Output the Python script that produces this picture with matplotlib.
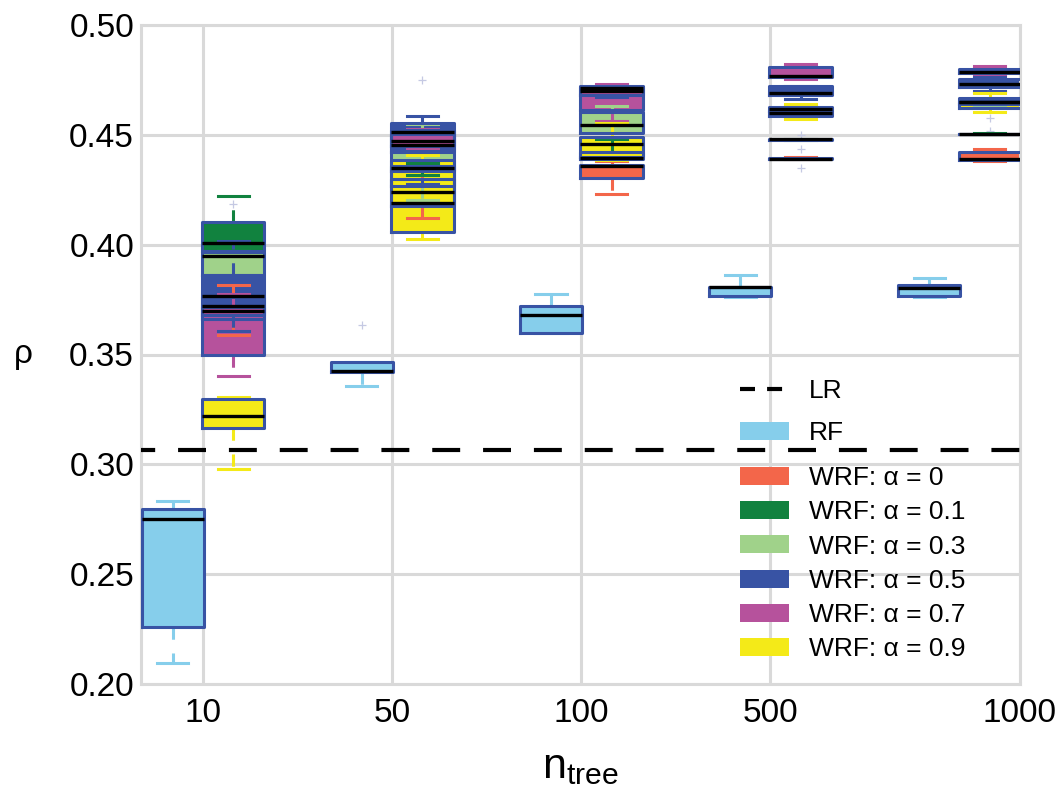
import matplotlib
matplotlib.use('Agg')
import matplotlib.pyplot as plt
from matplotlib.lines import Line2D
from matplotlib.patches import Patch

plt.rcParams['font.family'] = ['Liberation Sans', 'DejaVu Sans']
plt.rcParams['mathtext.fontset'] = 'custom'
plt.rcParams['mathtext.rm'] = 'Liberation Sans'
plt.rcParams['mathtext.it'] = 'Liberation Sans'

# ---------------- data ----------------
ntree_labels = ['10', '50', '100', '500', '1000']
lr_value = 0.3065

series_names = ['RF', 'WRF: α = 0', 'WRF: α = 0.1', 'WRF: α = 0.3',
                'WRF: α = 0.5', 'WRF: α = 0.7', 'WRF: α = 0.9']
series_colors = ['#86CEEB', '#F3664A', '#11823F', '#A0D28A',
                 '#3853A4', '#B6529C', '#F4EA18']

# RF
rf_lo = [0.2095, 0.3356, 0.3597, 0.3761, 0.3761]
rf_q1 = [0.2259, 0.3420, 0.3597, 0.3766, 0.3766]
rf_med = [0.2750, 0.3424, 0.3679, 0.3807, 0.3802]
rf_q3 = [0.2796, 0.3467, 0.3720, 0.3807, 0.3816]
rf_hi = [0.2832, 0.3467, 0.3775, 0.3862, 0.3848]
rf_fl = [[], [0.3634], [], [], []]

# WRF alpha = 0
a0_lo = [0.3588, 0.4121, 0.4229, 0.4388, 0.4381]
a0_q1 = [0.3660, 0.4175, 0.4302, 0.4390, 0.4385]
a0_med = [0.3720, 0.4190, 0.4358, 0.4392, 0.4390]
a0_q3 = [0.3760, 0.4300, 0.4362, 0.4396, 0.4422]
a0_hi = [0.3816, 0.4358, 0.4380, 0.4400, 0.4435]
a0_fl = [[], [], [], [0.4349], []]

# WRF alpha = 0.1
a1_lo = [0.3966, 0.4317, 0.4390, 0.4476, 0.4502]
a1_q1 = [0.3970, 0.4335, 0.4392, 0.4477, 0.4503]
a1_med = [0.4007, 0.4349, 0.4396, 0.4479, 0.4504]
a1_q3 = [0.4103, 0.4360, 0.4420, 0.4481, 0.4506]
a1_hi = [0.4221, 0.4372, 0.4481, 0.4482, 0.4507]
a1_fl = [[], [], [], [0.4499, 0.4435], [0.4517]]

# WRF alpha = 0.3
a3_lo = [0.3862, 0.4203, 0.4490, 0.4605, 0.4627]
a3_q1 = [0.3862, 0.4265, 0.4510, 0.4610, 0.4640]
a3_med = [0.3948, 0.4455, 0.4543, 0.4616, 0.4650]
a3_q3 = [0.3966, 0.4520, 0.4605, 0.4625, 0.4660]
a3_hi = [0.3972, 0.4549, 0.4633, 0.4628, 0.4668]
a3_fl = [[0.4185], [], [], [], [0.4577]]

# WRF alpha = 0.5
a5_lo = [0.3607, 0.4276, 0.4671, 0.4662, 0.4700]
a5_q1 = [0.3680, 0.4420, 0.4680, 0.4681, 0.4718]
a5_med = [0.3766, 0.4513, 0.4700, 0.4689, 0.4731]
a5_q3 = [0.3860, 0.4555, 0.4718, 0.4722, 0.4754]
a5_hi = [0.4016, 0.4586, 0.4722, 0.4724, 0.4763]
a5_fl = [[], [], [], [], []]

# WRF alpha = 0.7
a7_lo = [0.3402, 0.4440, 0.4563, 0.4753, 0.4775]
a7_q1 = [0.3497, 0.4449, 0.4613, 0.4762, 0.4781]
a7_med = [0.3698, 0.4470, 0.4712, 0.4768, 0.4786]
a7_q3 = [0.3716, 0.4504, 0.4722, 0.4807, 0.4800]
a7_hi = [0.3775, 0.4526, 0.4730, 0.4821, 0.4813]
a7_fl = [[], [0.4750], [], [], []]

# WRF alpha = 0.9
a9_lo = [0.2978, 0.4026, 0.4385, 0.4571, 0.4604]
a9_q1 = [0.3165, 0.4057, 0.4398, 0.4585, 0.4622]
a9_med = [0.3219, 0.4240, 0.4458, 0.4598, 0.4650]
a9_q3 = [0.3297, 0.4385, 0.4490, 0.4608, 0.4668]
a9_hi = [0.3306, 0.4408, 0.4556, 0.4639, 0.4690]
a9_fl = [[], [], [], [], []]

series_stats = [
    (rf_lo, rf_q1, rf_med, rf_q3, rf_hi, rf_fl),
    (a0_lo, a0_q1, a0_med, a0_q3, a0_hi, a0_fl),
    (a1_lo, a1_q1, a1_med, a1_q3, a1_hi, a1_fl),
    (a3_lo, a3_q1, a3_med, a3_q3, a3_hi, a3_fl),
    (a5_lo, a5_q1, a5_med, a5_q3, a5_hi, a5_fl),
    (a7_lo, a7_q1, a7_med, a7_q3, a7_hi, a7_fl),
    (a9_lo, a9_q1, a9_med, a9_q3, a9_hi, a9_fl),
]

# ---------------- figure ----------------
W, H = 1063, 794
fig = plt.figure(figsize=(W / 100, H / 100), dpi=100)
ax = fig.add_axes([141 / W, 1 - 684 / H, (1020 - 141) / W, (684 - 25) / H])

edge_col = '#3853A4'
box_w = 0.33
offset = 0.16
group_pos = [1, 2, 3, 4, 5]

for si, (lo, q1, med, q3, hi, fl) in enumerate(series_stats):
    col = series_colors[si]
    stats = []
    for g in range(len(group_pos)):
        stats.append(dict(med=med[g], q1=q1[g], q3=q3[g],
                          whislo=lo[g], whishi=hi[g], fliers=fl[g]))
    if si == 0:
        pos = [p - offset for p in group_pos]
    else:
        pos = [p + offset for p in group_pos]
    # fills
    fills = ax.bxp(stats, positions=pos, widths=box_w, patch_artist=True,
                   showfliers=False, showcaps=False, manage_ticks=False,
                   boxprops=dict(facecolor=col, edgecolor='none', linewidth=0),
                   whiskerprops=dict(linestyle='none'),
                   medianprops=dict(linestyle='none'))
    for b in fills['boxes']:
        b.set_zorder(2 + si * 0.01)
    # lines
    lines = ax.bxp(stats, positions=pos, widths=box_w, patch_artist=False,
                   showfliers=True, manage_ticks=False,
                   boxprops=dict(color=edge_col, linewidth=2.2),
                   whiskerprops=dict(color=col, linewidth=2.2, linestyle=(0, (4, 4.5))),
                   capprops=dict(color=col, linewidth=2.2),
                   medianprops=dict(color='black', linewidth=2.4),
                   flierprops=dict(marker='+', markeredgecolor='#C5C9E3',
                                   markersize=6, markeredgewidth=0.9, linestyle='none'))
    for w in lines['whiskers']:
        w.set_zorder(3 + si * 0.01)
    for c in lines['caps']:
        c.set_zorder(3.2 + si * 0.01)
    for b in lines['boxes']:
        b.set_zorder(3.5 + si * 0.01)
    for m in lines['medians']:
        m.set_zorder(4 + si * 0.01)
    for f in lines['fliers']:
        f.set_zorder(3.1)

ax.axhline(lr_value, color='black', linewidth=3, linestyle=(3.3, (6.7, 5.5)), zorder=6)

# axes styling
ax.set_xlim(0.672, 5.32)
ax.set_ylim(0.20, 0.50)
ax.set_xticks([1, 2, 3, 4, 5.32])
ax.set_xticklabels(ntree_labels)
ax.set_yticks([0.20, 0.25, 0.30, 0.35, 0.40, 0.45, 0.50])
ax.set_yticklabels([f'{v:.2f}' for v in [0.20, 0.25, 0.30, 0.35, 0.40, 0.45, 0.50]])
ax.tick_params(axis='both', length=0, labelsize=24)
ax.tick_params(axis='x', pad=10)
ax.tick_params(axis='y', pad=5)
ax.grid(True, color='#D9D9D9', linewidth=2.2, zorder=0)
ax.set_axisbelow(True)
for sp in ax.spines.values():
    sp.set_color('#D9D9D9')
    sp.set_linewidth(2.2)

ax.set_ylabel('ρ', rotation=0, fontsize=24, ha='center', va='center')
ax.yaxis.set_label_coords((23 - 141) / 879, 0.5)
ax.set_xlabel(r'$\mathregular{n_{tree}}$', fontsize=31, va='center')
ax.xaxis.set_label_coords(0.5, -(767 - 684) / 659)

# legends
lr_handle = Line2D([], [], color='black', linewidth=3, linestyle=(0, (3.6, 2.9)))
rf_handle = Patch(facecolor=series_colors[0], edgecolor='none')
leg1 = ax.legend([lr_handle, rf_handle], ['LR', 'RF'], loc='upper left',
                 bbox_to_anchor=(740 / W, 1 - 379 / H), bbox_transform=fig.transFigure,
                 frameon=False, borderpad=0, borderaxespad=0, handlelength=1.85,
                 handleheight=0.68, handletextpad=0.75, fontsize=19, labelspacing=0.69)
leg1.set_zorder(10)
ax.add_artist(leg1)

wrf_handles = [Patch(facecolor=c, edgecolor='none') for c in series_colors[1:]]
leg2 = ax.legend(wrf_handles, series_names[1:], loc='upper left',
                 bbox_to_anchor=(740 / W, 1 - 466 / H), bbox_transform=fig.transFigure,
                 frameon=False, borderpad=0, borderaxespad=0, handlelength=1.85,
                 handleheight=0.68, handletextpad=0.75, fontsize=19, labelspacing=0.39)
leg2.set_zorder(10)

fig.savefig('out.png', dpi=100)
